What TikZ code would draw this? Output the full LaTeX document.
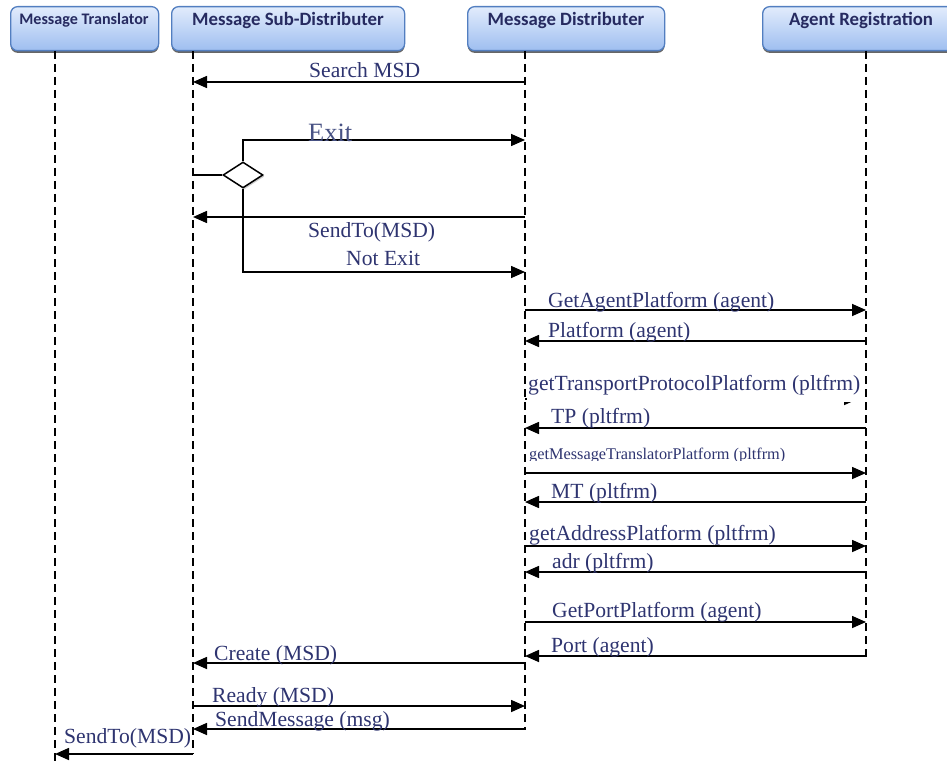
\documentclass[tikz,border=0pt]{standalone}
\usepackage{fontspec}
\setmainfont{Liberation Serif}
\newfontfamily\lblfont{Liberation Serif}
\newfontfamily\hdrfont{Carlito}
\usetikzlibrary{arrows.meta,shapes.geometric,shadows}
\definecolor{hdrtop}{RGB}{226,236,252}
\definecolor{hdrbot}{RGB}{158,190,240}
\definecolor{hdrline}{RGB}{82,126,192}
\definecolor{hdrtext}{RGB}{38,42,96}
\definecolor{lbl}{RGB}{46,52,112}
\definecolor{exitcol}{RGB}{72,82,132}

\begin{document}
\begin{tikzpicture}[x=1pt,y=-1pt,
  hdrbox/.style={draw=hdrline, line width=1.3pt, rounded corners=7pt,
    top color=hdrtop, bottom color=hdrbot, inner sep=0pt, anchor=north west,
    minimum height=44pt,
    drop shadow={shadow xshift=0pt, shadow yshift=-2.2pt, opacity=0.75, fill=black!80}},
  hdrtxt/.style={font=\hdrfont\bfseries\fontsize{18.8}{20}\selectfont, text=hdrtext, inner sep=0pt},
  lifeline/.style={draw=black, line width=1.8pt, dash pattern=on 8pt off 5pt},
  plain/.style={draw=black, line width=1.6pt},
  msg/.style={plain, -{Triangle[length=14pt,width=12pt]}},
  lbltxt/.style={font=\lblfont\fontsize{21.6}{24}\selectfont, text=lbl, inner sep=0pt, anchor=base west},
]
\useasboundingbox (0,0) rectangle (947,762);

% participant headers
\node[hdrbox, minimum width=148pt] (mtbox) at (10,6) {};
\node[hdrtxt, font=\hdrfont\bfseries\fontsize{16.1}{18}\selectfont] (mtlbl) at (84,20) {Message Translator};
\node[hdrbox, minimum width=233pt] (msdbox) at (171,6) {};
\node[hdrtxt] (msdlbl) at (288,20) {Message Sub-Distributer};
\node[hdrbox, minimum width=197pt] (mdbox) at (467,6) {};
\node[hdrtxt] (mdlbl) at (566,20) {Message Distributer};
\node[hdrbox, minimum width=198pt] (arbox) at (762,6) {};
\node[hdrtxt] (arlbl) at (861,20) {Agent Registration};

% lifelines
\coordinate (mtT) at (55,51);   \coordinate (mtB) at (55,762);
\coordinate (msdT) at (193,51); \coordinate (msdB) at (193,754);
\coordinate (mdT) at (525,51);  \coordinate (mdB) at (525,730);
\coordinate (arT) at (866,51);  \coordinate (arB) at (866,658);
\draw[lifeline] (mtT) -- (mtB);
\draw[lifeline] (msdT) -- (msdB);
\draw[lifeline] (mdT) -- (mdB);
\draw[lifeline] (arT) -- (arB);

% search and decision
\draw[msg] (mdT |- 0,82) -- (msdT |- 0,82);
\node[lbltxt] (l1) at (309,78) {Search MSD};

\node[diamond, draw=black, line width=1.5pt, minimum width=40pt, minimum height=26pt,
  inner sep=0pt, fill=white,
  drop shadow={shadow xshift=1.5pt, shadow yshift=-1.5pt, opacity=0.5, fill=black!40}] (dec) at (243,175) {};
\draw[plain] (msdT |- dec.west) -- (dec.west);
\draw[msg] (dec.north) |- (mdT |- 0,140);
\node[font=\lblfont\fontsize{26.4}{28}\selectfont, text=exitcol, inner sep=0pt, anchor=base west] (l2) at (308,142) {Exit};

\draw[msg] (mdT |- 0,217) -- (msdT |- 0,217);
\node[lbltxt] (l3) at (308,237) {SendTo(MSD)};

\draw[msg] (dec.south) |- (mdT |- 0,272);
\node[lbltxt] (l4) at (346,265) {Not Exit};

% exchanges with the agent registration
\draw[msg] (mdT |- 0,310) -- (arT |- 0,310);
\node[lbltxt] (l5) at (548,307) {GetAgentPlatform (agent)};
\draw[msg] (arT |- 0,341) -- (mdT |- 0,341);
\node[lbltxt] (l6) at (548,337) {Platform (agent)};

\draw[msg] (mdT |- 0,399) -- (858,399);
\node[lbltxt, fill=white, inner xsep=1pt, inner ysep=7pt] (l7) at (527,390) {getTransportProtocolPlatform (pltfrm)};

\draw[msg] (arT |- 0,428) -- (mdT |- 0,428);
\node[lbltxt] (l8) at (551,423) {TP (pltfrm)};

\draw[msg] (mdT |- 0,473) -- (arT |- 0,473);
\begin{scope}
  \clip (520,440) rectangle (800,460);
  \node[lbltxt, font=\lblfont\fontsize{16.3}{18}\selectfont] (l9) at (529,459) {getMessageTranslatorPlatform (pltfrm)};
\end{scope}

\draw[msg] (arT |- 0,502) -- (mdT |- 0,502);
\node[lbltxt] (l10) at (551,498) {MT (pltfrm)};

\draw[msg] (mdT |- 0,546) -- (arT |- 0,546);
\node[lbltxt] (l11) at (529,540) {getAddressPlatform (pltfrm)};
\draw[msg] (arT |- 0,572) -- (mdT |- 0,572);
\node[lbltxt] (l12) at (552,568) {adr (pltfrm)};

\draw[msg] (mdT |- 0,622) -- (arT |- 0,622);
\node[lbltxt] (l13) at (552,617) {GetPortPlatform (agent)};
\draw[msg] (arT |- 0,656) -- (mdT |- 0,656);
\node[lbltxt] (l14) at (551,652) {Port (agent)};

% creation and forwarding
\draw[msg] (mdT |- 0,663) -- (msdT |- 0,663);
\node[lbltxt] (l15) at (214,660) {Create (MSD)};
\draw[msg] (msdT |- 0,706) -- (mdT |- 0,706);
\node[lbltxt] (l16) at (212,702) {Ready (MSD)};
\draw[msg] (mdT |- 0,729) -- (msdT |- 0,729);
\node[lbltxt] (l17) at (215,726) {SendMessage (msg)};
\draw[msg] (msdB) -- (mtT |- msdB);
\node[lbltxt] (l18) at (64,743) {SendTo(MSD)};
\end{tikzpicture}
\end{document}
